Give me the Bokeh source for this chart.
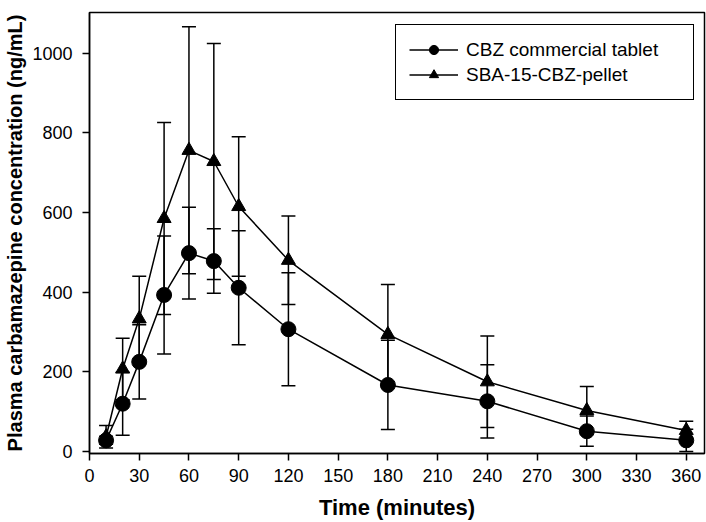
from bokeh.plotting import figure
from bokeh.models import (ColumnDataSource, Whisker, TeeHead, Legend, LegendItem,
                          FixedTicker, Range1d)
from bokeh.embed import file_html
from bokeh.resources import INLINE

# Data
time_min = [10, 20, 30, 45, 60, 75, 90, 120, 180, 240, 300, 360]
cbz_mean = [28, 120, 225, 393, 498, 478, 411, 307, 167, 126, 51, 28]
cbz_sd = [10, 79, 93, 148, 115, 81, 143, 142, 112, 92, 38, 28]
sba_mean = [37, 207, 333, 585, 756, 728, 615, 480, 294, 175, 103, 53]
sba_sd = [28, 77, 107, 241, 310, 296, 175, 111, 125, 115, 60, 23]
x_ticks = list(range(0, 361, 30))
y_ticks = list(range(0, 1001, 200))
series_names = ["CBZ commercial tablet", "SBA-15-CBZ-pellet"]

FONT = "Liberation Sans"

def make_source(mean, sd):
    return ColumnDataSource(dict(
        x=time_min, y=mean,
        upper=[m + s for m, s in zip(mean, sd)],
        lower=[m - s for m, s in zip(mean, sd)],
    ))

src_cbz = make_source(cbz_mean, cbz_sd)
src_sba = make_source(sba_mean, sba_sd)

p = figure(width=706, height=522, x_range=Range1d(0, 371), y_range=Range1d(-5, 1102),
           output_backend="svg", toolbar_location=None,
           min_border_left=89, min_border_right=2, min_border_top=12, min_border_bottom=67)

p.xgrid.visible = False
p.ygrid.visible = False
p.outline_line_color = "black"
p.outline_line_width = 1.5
p.outline_line_alpha = 1.0
p.background_fill_color = "white"
p.border_fill_color = "white"

for src in (src_cbz, src_sba):
    w = Whisker(source=src, base="x", upper="upper", lower="lower",
                line_color="black", line_width=1.5, level="underlay",
                upper_head=TeeHead(size=14, line_width=1.5, line_color="black"),
                lower_head=TeeHead(size=14, line_width=1.5, line_color="black"))
    p.add_layout(w)

l1 = p.line("x", "y", source=src_cbz, line_color="black", line_width=1.5)
l2 = p.line("x", "y", source=src_sba, line_color="black", line_width=1.5)
s1 = p.scatter("x", "y", source=src_cbz, marker="circle", size=15,
               fill_color="black", line_color="black")
s2 = p.scatter("x", "y", source=src_sba, marker="triangle", size=14,
               fill_color="black", line_color="black")

# Axes
p.xaxis.ticker = FixedTicker(ticks=x_ticks)
p.yaxis.ticker = FixedTicker(ticks=y_ticks)
p.xaxis.axis_label = "Time (minutes)"
p.yaxis.axis_label = "Plasma carbamazepine concentration (ng/mL)"
for ax in (p.xaxis, p.yaxis):
    ax.axis_line_color = "black"
    ax.axis_line_width = 1.5
    ax.major_tick_line_color = "black"
    ax.major_tick_line_width = 1.5
    ax.major_tick_in = 0
    ax.major_tick_out = 7
    ax.minor_tick_line_color = None
    ax.major_label_text_font = FONT
    ax.major_label_text_font_size = "18px"
    ax.major_label_text_color = "black"
    ax.axis_label_text_font = FONT
    ax.axis_label_text_font_style = "bold"
    ax.axis_label_text_color = "black"
p.xaxis.axis_label_text_font_size = "22px"
p.yaxis.axis_label_text_font_size = "20px"
p.xaxis.major_label_standoff = 8
p.xaxis.axis_label_standoff = 10
p.yaxis.major_label_standoff = 10
p.yaxis.axis_label_standoff = 3

legend = Legend(items=[LegendItem(label=series_names[0], renderers=[l1, s1]),
                       LegendItem(label=series_names[1], renderers=[l2, s2])],
                location=(306, 353), margin=0, padding=13, spacing=2,
                glyph_width=49, glyph_height=23, label_height=23, label_width=214,
                label_standoff=8, label_text_font=FONT, label_text_font_size="19px",
                label_text_color="black",
                border_line_color="black", border_line_width=1.5, border_line_alpha=1.0,
                background_fill_color="white", background_fill_alpha=1.0)
p.add_layout(legend)

open("out.html", "w").write(file_html(p, INLINE))
